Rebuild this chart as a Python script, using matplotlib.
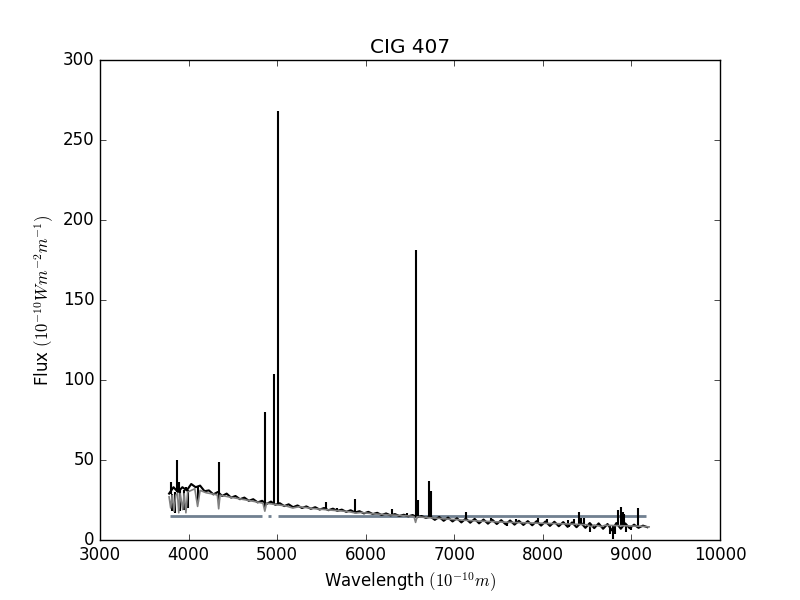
import numpy as np
import matplotlib
matplotlib.use("Agg")
import matplotlib.pyplot as plt

plt.style.use("classic")

# Espectro observado (negro), rejilla cada 50 A
long_obs = np.arange(3780, 9181, 50)
flujo_obs = [
    29, 33, 30, 33, 31, 35, 33, 34, 30.5, 31,
    28.5, 30, 27.5, 29, 26.5, 27.5, 25.5, 26.5, 24.5, 25.5,
    23.5, 24.5, 22.5, 24, 22, 23, 21.2, 22.3, 20.5, 21.6,
    20, 21, 19.5, 20.5, 19, 20, 18.6, 19.6, 18.2, 19,
    17.6, 18.6, 17.2, 18, 16.6, 17.6, 16.2, 17, 15.6, 16.6,
    15.4, 16.2, 15, 15.8, 14.8, 15.6, 14.2, 15, 13.8, 14.6,
    12.6, 14.4, 12, 14, 11.6, 13.6, 11, 13.4, 10.8, 13.2,
    10.4, 12.8, 10.2, 12.6, 10, 12.4, 9.8, 12.2, 9.6, 12,
    9.4, 11.8, 9.2, 11.8, 9, 11.6, 8.8, 11.4, 8.6, 11.2,
    8.2, 11, 8, 10.8, 7.6, 10.6, 7.4, 10.4, 7, 10,
    6, 10.6, 7, 10.4, 7.4, 9.6, 7.6, 9, 8,
]

# Lineas de emision: longitud, base, pico
lineas_w = [3800, 3869, 3889, 3970, 4102, 4340, 4866, 4961, 5010, 5550, 5672,
            5878, 6300, 6462, 6568, 6588, 6720, 6736, 7136, 7420, 7700, 7950,
            8050, 8280, 8350, 8408, 8430, 8460, 8852, 8879, 8902, 8920, 9069]
lineas_base = [29, 30, 30, 31, 32, 28, 22.5, 22, 22, 19, 18.5,
               17.5, 15.5, 15, 14.5, 14.5, 14, 14, 12, 11, 10.5, 10,
               10, 9.5, 9.5, 9.5, 9.5, 9.5, 8.5, 8.5, 8.5, 8.5, 8.5]
lineas_pico = [36, 50, 36, 33, 34, 49, 80, 104, 268, 24, 20,
               25.5, 19.5, 17, 181, 25, 37, 30.5, 17.7, 13.5, 13, 13.5,
               13, 12.5, 13, 17.7, 13.5, 14, 18.7, 20.6, 17.7, 16, 19.8]

# Absorciones / residuos en el espectro observado: longitud, fondo, tope
abs_w = [3810, 3850, 3905, 3950, 3990, 4102, 4340, 4861, 7600, 8300,
         8530, 8760, 8796, 8820, 8940, 8990]
abs_fondo = [18, 17, 18, 19, 20, 24, 25, 20, 9, 8,
             5, 3.5, 0.5, 4, 5, 6]
abs_tope = [29, 30, 31, 31, 31, 32, 29, 23, 11, 10,
            9.5, 9.5, 9.5, 9.5, 9, 9]

# Modelo (gris)
long_mod = [3780, 3798, 3815, 3835, 3855, 3875, 3889, 3905, 3934, 3950,
            3970, 3990, 4030, 4070, 4102, 4130, 4200, 4300, 4325, 4340,
            4355, 4450, 4550, 4650, 4750, 4840, 4861, 4880, 5000, 5100,
            5175, 5250, 5400, 5600, 5800, 5890, 5950, 6100, 6300, 6500,
            6545, 6563, 6580, 6700, 6900, 7100, 7300, 7500, 7700, 7900,
            8100, 8300, 8500, 8542, 8580, 8662, 8700, 8900, 9100, 9200]
flujo_mod = [27, 20, 28, 18, 28, 29, 17, 29, 19, 29,
             17, 30, 31, 32, 21, 31, 29.5, 28.5, 28, 19.5,
             28, 27, 26, 25, 24, 23, 18, 23, 22, 21.3,
             20, 20.8, 19.7, 18.7, 17.8, 16.8, 17.2, 16.3, 15.6, 15,
             14.6, 11, 14.5, 14, 13.2, 12.4, 11.8, 11.3, 10.9, 10.6,
             10.3, 10, 9.5, 8.3, 9.4, 8.4, 9.2, 8.9, 8.6, 8.2]

# Nivel horizontal por tramos
tramos_ini = [3790, 4895, 5005]
tramos_fin = [4830, 4935, 9170]
nivel = 15

fig, ax = plt.subplots(figsize=(8, 6), dpi=100)

ax.hlines([nivel] * len(tramos_ini), tramos_ini, tramos_fin,
          color="slategray", lw=2, zorder=1)
ax.plot(long_obs, flujo_obs, color="k", lw=1.5, zorder=2)
ax.vlines(lineas_w, lineas_base, lineas_pico, color="k", lw=1.5, zorder=2)
ax.vlines(abs_w, abs_fondo, abs_tope, color="k", lw=1.5, zorder=2)
ax.plot(long_mod, flujo_mod, color="gray", lw=1.2, zorder=3)

ax.set_xlim(3000, 10000)
ax.set_ylim(0, 300)
ax.set_title("CIG 407")
ax.set_xlabel(r"Wavelength $(10^{-10}m)$")
ax.set_ylabel(r"Flux $(10^{-10}Wm^{-2}m^{-1})$")

fig.savefig("out.png", dpi=100)
